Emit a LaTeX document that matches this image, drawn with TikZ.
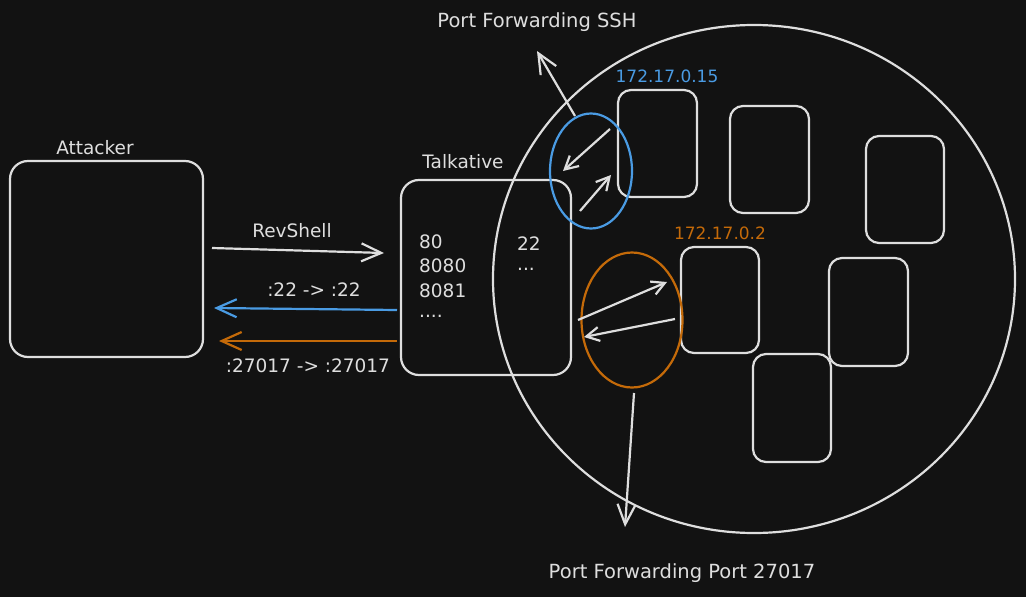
\documentclass[tikz,border=0pt]{standalone}
\usepackage{fontspec}
\setmainfont{DejaVu Sans}
\usetikzlibrary{arrows.meta,shapes.geometric}
\definecolor{bg}{HTML}{121212}
\definecolor{fg}{HTML}{DEDEDE}
\definecolor{ipblue}{HTML}{4A9BE3}
\definecolor{iporange}{HTML}{C46A09}
\tikzset{
  bigbox/.style={draw=fg, line width=2.2pt, rounded corners=18pt, inner sep=0pt},
  smallbox/.style={draw=fg, line width=2.2pt, rounded corners=13pt, inner sep=0pt},
  lbl/.style={text=fg, font=\fontsize{18.5}{22}\selectfont, inner sep=0pt},
  biglbl/.style={text=fg, font=\fontsize{19.5}{23}\selectfont, inner sep=0pt},
  iplbl/.style={font=\fontsize{17}{20}\selectfont, inner sep=0pt},
  port/.style={text=fg, font=\fontsize{18.5}{22}\selectfont, inner sep=0pt, anchor=west},
  arr/.style={draw=fg, line width=2.2pt, -{Straight Barb[length=20pt,width=18pt,line width=2.2pt]}},
  sarr/.style={draw=fg, line width=2.2pt, -{Straight Barb[length=13pt,width=14pt,line width=2.2pt]}},
  ring/.style={ellipse, draw, line width=2.2pt, inner sep=0pt}
}
\begin{document}
\begin{tikzpicture}[x=1pt,y=-1pt]
\fill[bg] (0,0) rectangle (1026,597);
\useasboundingbox (0,0) rectangle (1026,597);

% big network circle
\node[ring, draw=fg, minimum width=522pt, minimum height=508pt] (net) at (754,279) {};

% main boxes
\node[bigbox, minimum width=193pt, minimum height=196pt] (att) at (106.5,259) {};
\node[lbl] (attl) at (95,148) {Attacker};
\node[bigbox, minimum width=170pt, minimum height=195pt] (talk) at (486,277.5) {};
\node[lbl] (talkl) at (463,162) {Talkative};

\node[port] (p80) at (419,242) {80};
\node[port] (p8080) at (419,266) {8080};
\node[port] (p8081) at (419,291) {8081};
\node[port] (pdots) at (419,316) {....};
\node[port] (p22) at (517,244) {22};
\node[port] (p22dots) at (517,269) {...};

% hosts
\node[smallbox, minimum width=79pt, minimum height=107pt] (h1) at (657.5,143.5) {};
\node[smallbox, minimum width=79pt, minimum height=107pt] (h2) at (769.5,159.5) {};
\node[smallbox, minimum width=78pt, minimum height=107pt] (h3) at (905,189.5) {};
\node[smallbox, minimum width=78pt, minimum height=106pt] (h4) at (720,300) {};
\node[smallbox, minimum width=79pt, minimum height=108pt] (h5) at (868.5,312) {};
\node[smallbox, minimum width=78pt, minimum height=108pt] (h6) at (792,408) {};

\node[iplbl, text=ipblue] (ip1) at (667,76) {172.17.0.15};
\node[iplbl, text=iporange] (ip2) at (720,233) {172.17.0.2};

% forwarding rings
\node[ring, draw=ipblue, minimum width=82pt, minimum height=115pt] (bring) at (591,171) {};
\node[ring, draw=iporange, minimum width=101pt, minimum height=135pt] (oring) at (632,320) {};

% coordinates for arrows
\coordinate (revA) at (212,248);
\coordinate (revB) at (384,253);
\coordinate (bA) at (397,310);
\coordinate (bB) at (214,308);
\coordinate (oA) at (397,341);
\coordinate (oB) at (219,341);
\coordinate (sshA) at (575,116);
\coordinate (sshB) at (537,51);
\coordinate (b1A) at (610,129);
\coordinate (b1B) at (563,171);
\coordinate (b2A) at (580,211);
\coordinate (b2B) at (611,175);
\coordinate (o1A) at (578,320);
\coordinate (o1B) at (667,282);
\coordinate (o2A) at (675,319);
\coordinate (o2B) at (584,337);
\coordinate (dnA) at (634,393);
\coordinate (dnB) at (625,527);

\draw[arr] (revA) -- (revB);
\draw[arr, draw=ipblue] (bA) -- (bB);
\draw[arr, draw=iporange] (oA) -- (oB);
\draw[arr] (sshA) -- (sshB);
\draw[sarr] (b1A) -- (b1B);
\draw[sarr] (b2A) -- (b2B);
\draw[sarr] (o1A) -- (o1B);
\draw[sarr] (o2A) -- (o2B);
\draw[arr] (dnA) -- (dnB);

\node[lbl] (revl) at (292,231) {RevShell};
\node[lbl] (bl) at (314,290) {:22 -> :22};
\node[lbl] (ol) at (308,366) {:27017 -> :27017};
\node[biglbl] (sshl) at (537,22) {Port Forwarding SSH};
\node[biglbl] (dnl) at (682,573) {Port Forwarding Port 27017};
\end{tikzpicture}
\end{document}
